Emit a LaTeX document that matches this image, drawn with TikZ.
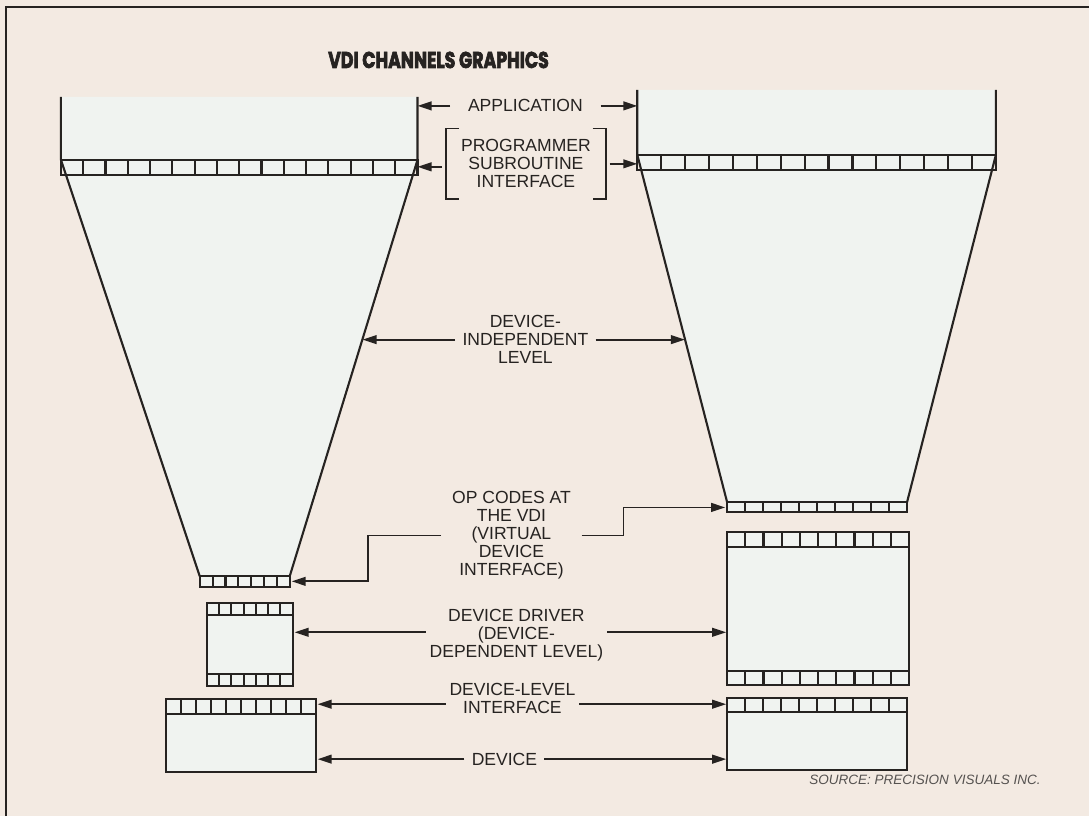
\documentclass[tikz,border=0pt]{standalone}
\usepackage{fontspec}
\setmainfont{Liberation Sans}
\newfontfamily\titlefont{Poppins}[BoldFeatures={FakeBold=3.5}]
\usetikzlibrary{arrows.meta,positioning,calc}
\definecolor{paper}{RGB}{243,234,226}
\definecolor{panel}{RGB}{240,243,240}
\definecolor{ink}{RGB}{38,35,33}
\definecolor{greyink}{RGB}{85,82,80}
% strip of cells: x-left, x-right, y-top, y-bottom, number of cells
\newcommand{\cellstrip}[5]{%
  \draw[outline] (#1,#3) rectangle (#2,#4);
  \pgfmathsetmacro{\cellw}{(#2-#1)/#5}
  \pgfmathtruncatemacro{\cellnum}{#5-1}
  \foreach \k in {1,...,\cellnum}
    \draw[outline] ({#1+\k*\cellw},#3) -- ({#1+\k*\cellw},#4);
}

\begin{document}
\begin{tikzpicture}[x=0.02cm, y=-0.02cm,
    outline/.style={draw=ink, line width=1.2pt},
    lbl/.style={font=\fontsize{10}{10.3}\selectfont, text=ink, align=center, inner ysep=0pt},
    pointer/.style={draw=ink, line width=1pt, -{Triangle[length=8pt,width=5pt]}}]
    \fill[paper] (0,0) rectangle (1090,817);
    \draw[ink, line width=1.4pt] (6,817) -- (6,7) -- (1090,7);
    \node[font=\titlefont\bfseries\fontsize{13}{15}\selectfont, text=ink] (title) at (439,60) {\scalebox{0.76}[1]{VDI CHANNELS GRAPHICS}};

    %, Left: funnel ---
    \coordinate (lfTL) at (61,97);
    \coordinate (lfTR) at (418,97);
    \coordinate (lfSL) at (61,160);
    \coordinate (lfSR) at (418,160);
    \coordinate (lfBL) at (200,577);
    \coordinate (lfBR) at (290,577);
    \fill[panel] (lfTL) -- (lfTR) -- (lfSR) -- (lfBR) -- (290,588) -- (200,588) -- (lfBL) -- (lfSL) -- cycle;
    \draw[outline] (lfTL) -- (lfSL) -- (lfBL);
    \draw[outline] (lfTR) -- (lfSR) -- (lfBR);
    \cellstrip{61}{418}{160}{175}{16}
    \cellstrip{200}{290}{577}{588}{7}
    % driver and device
    \fill[panel] (207,604) rectangle (293,687);
    \draw[outline] (207,604) rectangle (293,687);
    \cellstrip{207}{293}{604}{616}{7}
    \cellstrip{207}{293}{675}{687}{7}
    \fill[panel] (166,700) rectangle (316,773);
    \draw[outline] (166,700) rectangle (316,773);
    \cellstrip{166}{316}{700}{715}{10}

    %, Right: funnel ---
    \coordinate (rfTL) at (638,90);
    \coordinate (rfTR) at (997,90);
    \coordinate (rfSL) at (638,155);
    \coordinate (rfSR) at (997,155);
    \coordinate (rfBL) at (728,503);
    \coordinate (rfBR) at (908,503);
    \fill[panel] (rfTL) -- (rfTR) -- (rfSR) -- (rfBR) -- (908,513) -- (728,513) -- (rfBL) -- (rfSL) -- cycle;
    \draw[outline] (rfTL) -- (rfSL) -- (rfBL);
    \draw[outline] (rfTR) -- (rfSR) -- (rfBR);
    \cellstrip{638}{997}{155}{170}{15}
    \cellstrip{728}{908}{503}{513}{10}
    % driver and device
    \fill[panel] (728,533) rectangle (910,686);
    \draw[outline] (728,533) rectangle (910,686);
    \cellstrip{728}{910}{533}{548}{10}
    \cellstrip{728}{910}{672}{686}{10}
    \fill[panel] (728,699) rectangle (908,771);
    \draw[outline] (728,699) rectangle (908,771);
    \cellstrip{728}{908}{699}{713}{10}

    %, Labels ---
    \node[lbl, inner xsep=10pt] (app) at (526,106) {APPLICATION};
    \node[lbl, minimum width=3.18cm, minimum height=1.4cm] (psi) at (526.5,164) {PROGRAMMER\\SUBROUTINE\\INTERFACE};
    \node[lbl, inner xsep=4pt] (dil) at (526,340) {DEVICE-\\INDEPENDENT\\LEVEL};
    \node[lbl, inner xsep=6pt] (opc) at (512,536) {OP CODES AT\\THE VDI\\(VIRTUAL\\DEVICE\\INTERFACE)};
    \node[lbl, inner xsep=2pt] (dd) at (517,636) {DEVICE DRIVER\\(DEVICE-\\DEPENDENT LEVEL)};
    \node[lbl, inner xsep=2pt] (dli) at (513,699) {DEVICE-LEVEL\\INTERFACE};
    \node[lbl, inner xsep=4pt] (dev) at (505,760) {DEVICE};
    \node[font=\itshape\fontsize{7.7}{9}\selectfont, text=greyink, anchor=east] (src) at (1048,781) {SOURCE: PRECISION VISUALS INC.};

    % brackets round the subroutine interface
    \draw[outline, line width=1pt] ($(psi.north west)+(13,0)$) -- (psi.north west) -- (psi.south west) -- ($(psi.south west)+(13,0)$);
    \draw[outline, line width=1pt] ($(psi.north east)+(-13,0)$) -- (psi.north east) -- (psi.south east) -- ($(psi.south east)+(-13,0)$);

    %, Arrows ---
    \coordinate (dilL) at ($(lfSR)!0.43!(lfBR)$);
    \coordinate (dilR) at ($(rfSL)!0.53!(rfBL)$);
    \coordinate (opL) at (292,582);
    \coordinate (opR) at (726,508);
    \coordinate (boxL) at (295,0);
    \coordinate (devL) at (318,0);
    \coordinate (boxR) at (727,0);
    \draw[pointer] (app.west) -- (app.west -| lfTR);
    \draw[pointer] (app.east) -- (app.east -| rfTL);
    \draw[pointer] ($(psi.west)+(-4,3)$) -- ($(psi.west -| lfTR)+(0,3)$);
    \draw[pointer] ($(psi.east)+(4,0)$) -- (psi.east -| rfTL);
    \draw[pointer] (dil.west) -- (dil.west -| dilL);
    \draw[pointer] (dil.east) -- (dil.east -| dilR);
    \draw[pointer] (opc.west) -- ++(-73,0) |- (opL);
    \draw[pointer] (opc.east) -- ++(42,0) |- (opR);
    \draw[pointer] ($(dd.west)+(0,-3)$) -- ($(dd.west -| boxL)+(0,-3)$);
    \draw[pointer] ($(dd.east)+(0,-3)$) -- ($(dd.east -| boxR)+(0,-3)$);
    \draw[pointer] ($(dli.west)+(0,6)$) -- ($(dli.west -| devL)+(0,6)$);
    \draw[pointer] ($(dli.east)+(0,6)$) -- ($(dli.east -| boxR)+(0,6)$);
    \draw[pointer] (dev.west) -- (dev.west -| devL);
    \draw[pointer] (dev.east) -- (dev.east -| boxR);
\end{tikzpicture}
\end{document}
